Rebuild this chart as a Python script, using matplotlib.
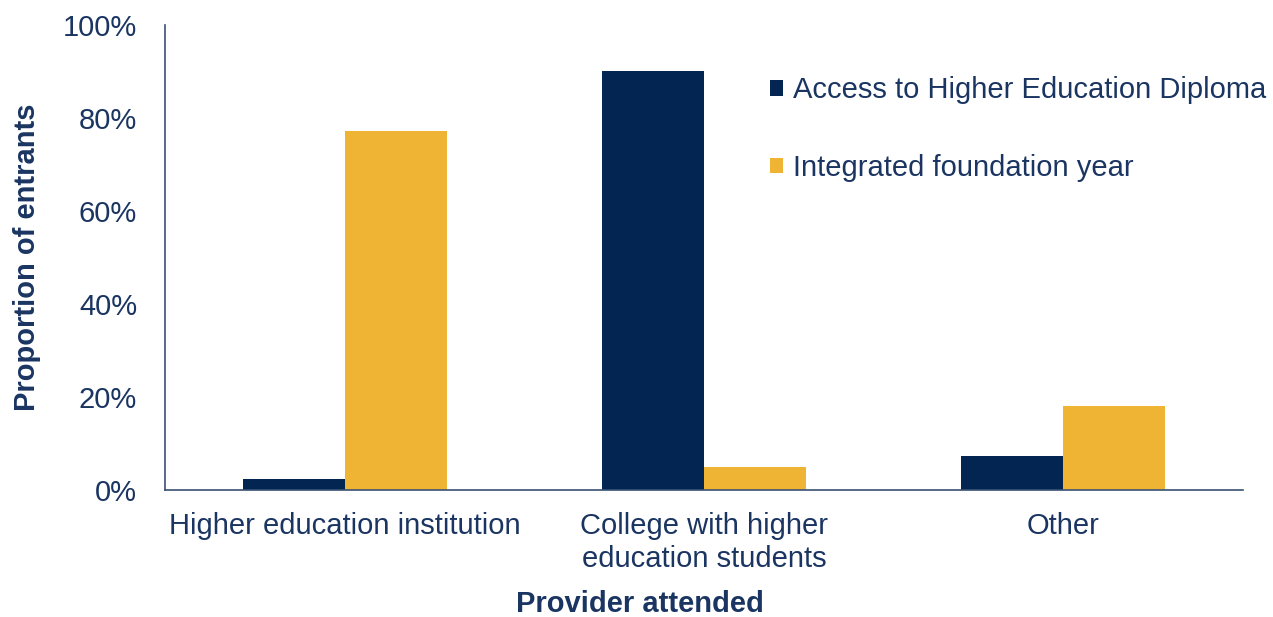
import numpy as np
import matplotlib.pyplot as plt
from matplotlib.ticker import PercentFormatter

# Data
categories = ["Higher education institution",
              "College with higher\neducation students",
              "Other"]
access_diploma = [2.4, 90.1, 7.3]
foundation_year = [77.2, 4.9, 18.1]
series_names = ["Access to Higher Education Diploma", "Integrated foundation year"]

navy = "#032552"
gold = "#F0B434"
text_col = "#1B3562"

plt.rcParams['font.family'] = ['Liberation Sans', 'DejaVu Sans']

fig = plt.figure(figsize=(12.73, 6.17), dpi=100)
ax = fig.add_axes([165 / 1273, 1 - 490 / 617, (1243 - 165) / 1273, 465 / 617])

x = np.arange(len(categories))
w = 0.284
ax.bar(x - w / 2, access_diploma, width=w, color=navy, label=series_names[0])
ax.bar(x + w / 2, foundation_year, width=w, color=gold, label=series_names[1])

ax.set_xlim(-0.5, 2.5)
ax.set_ylim(0, 100)
ax.set_yticks(range(0, 101, 20))
ax.yaxis.set_major_formatter(PercentFormatter(decimals=0))
ax.set_xticks(x)
ax.set_xticklabels(categories, linespacing=1.2)

for s in ["top", "right"]:
    ax.spines[s].set_visible(False)
for s in ["left", "bottom"]:
    ax.spines[s].set_color("#3A5275")
    ax.spines[s].set_linewidth(1.2)

ax.tick_params(axis="both", length=0, labelsize=21, colors=text_col)
ax.tick_params(axis="y", pad=20)
ax.tick_params(axis="x", pad=16)

ax.set_ylabel("Proportion of entrants", fontsize=21, fontweight="bold",
              color=text_col, labelpad=16)
ax.set_xlabel("Provider attended", fontsize=21, fontweight="bold",
              color=text_col)
ax.xaxis.set_label_coords(0.4406, -0.214)

leg = ax.legend(loc="upper left", bbox_to_anchor=(0.537, 0.946), frameon=False,
                fontsize=21, handlelength=0.45, handleheight=0.42,
                handletextpad=0.33, labelspacing=1.7, labelcolor=text_col)

fig.savefig("out.png", dpi=100)
